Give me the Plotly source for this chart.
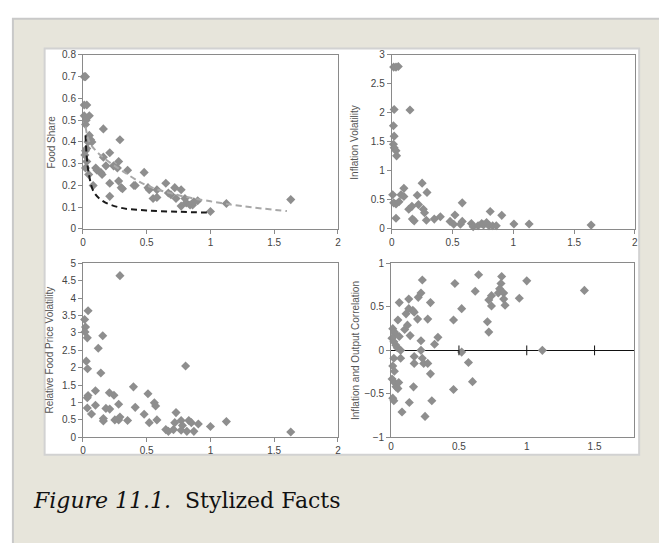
import plotly.graph_objects as go

W, H = 659, 543

# ---------------- data ----------------
p1_x = [0.01,0.02,0.01,0.03,0.01,0.025,0.05,0.02,0.05,0.06,0.07,0.04,0.03,0.02,0.015,0.03,0.02,0.045,0.08,
        0.10,0.11,0.14,0.15,0.16,0.16,0.18,0.21,0.21,0.21,0.24,0.27,0.28,0.28,0.29,0.30,0.31,0.35,0.40,0.41,
        0.48,0.51,0.52,0.55,0.58,0.58,0.65,0.67,0.69,0.72,0.73,0.77,0.77,0.80,0.81,0.84,0.86,0.87,0.90,1.00,1.125,1.63]
p1_y = [0.70,0.70,0.57,0.57,0.52,0.50,0.52,0.48,0.43,0.41,0.40,0.40,0.37,0.36,0.34,0.31,0.28,0.25,0.20,
        0.28,0.27,0.26,0.25,0.46,0.33,0.29,0.35,0.21,0.15,0.29,0.28,0.31,0.22,0.41,0.19,0.185,0.27,0.20,0.20,
        0.26,0.19,0.18,0.14,0.145,0.18,0.21,0.165,0.157,0.19,0.14,0.105,0.18,0.14,0.12,0.11,0.11,0.125,0.13,0.08,0.117,0.135]
fit_gray_x = [0.02,0.05,0.10,0.20,0.30,0.50,0.75,1.00,1.25,1.60]
fit_gray_y = [0.47,0.40,0.36,0.31,0.27,0.20,0.155,0.127,0.105,0.082]
fit_black_x = [0.02,0.03,0.047,0.085,0.16,0.30,0.50,0.75,1.00]
fit_black_y = [0.43,0.33,0.25,0.17,0.127,0.097,0.085,0.079,0.075]

p2_x = [0.016,0.035,0.054,0.02,0.15,0.014,0.02,0.014,0.02,0.035,0.04,
        0.008,0.016,0.035,0.06,0.076,0.10,0.10,0.035,0.14,0.166,0.17,0.185,0.21,0.22,0.25,0.26,0.27,0.29,0.285,
        0.35,0.40,0.48,0.51,0.52,0.565,0.58,0.58,0.655,0.67,0.71,0.74,0.755,0.78,0.80,0.81,0.83,0.86,0.905,1.005,1.13,1.64]
p2_y = [2.79,2.79,2.80,2.06,2.05,1.78,1.60,1.46,1.40,1.35,1.26,
        0.59,0.45,0.43,0.47,0.59,0.70,0.56,0.185,0.34,0.39,0.17,0.14,0.58,0.42,0.79,0.34,0.28,0.63,0.15,
        0.17,0.21,0.13,0.08,0.24,0.08,0.45,0.13,0.095,0.04,0.056,0.095,0.07,0.11,0.056,0.30,0.056,0.056,0.235,0.085,0.085,0.067]

p3_x = [0.29,0.04,0.013,0.02,0.016,0.034,0.155,0.12,0.026,0.036,0.14,0.805,0.098,0.04,0.034,0.207,0.243,0.396,0.51,
        0.098,0.034,0.067,0.18,0.21,0.16,0.16,0.28,0.41,0.25,0.28,0.29,0.35,0.48,0.52,0.56,0.57,0.58,
        0.65,0.67,0.71,0.73,0.72,0.77,0.77,0.78,0.815,0.83,0.85,0.87,0.905,1.0,1.125,1.63]
p3_y = [4.65,3.64,3.39,3.17,3.03,2.86,2.92,2.56,2.19,1.97,1.85,2.05,1.34,1.20,1.14,1.28,1.21,1.45,1.25,
        0.92,0.84,0.67,0.83,0.81,0.54,0.47,0.95,0.86,0.50,0.50,0.58,0.48,0.66,0.42,0.99,0.90,0.50,
        0.22,0.17,0.22,0.71,0.42,0.48,0.20,0.34,0.17,0.48,0.42,0.17,0.38,0.31,0.45,0.15]

p4_x = [0.012,0.024,0.03,0.006,0.02,0.035,0.045,0.06,0.07,0.06,0.05,0.02,0.07,0.012,0.024,0.007,0.024,0.036,0.056,0.05,
        0.012,0.02,0.08,0.10,0.11,0.12,0.13,0.13,0.14,0.16,0.17,0.17,0.17,0.165,0.134,0.195,0.20,0.22,0.22,0.22,
        0.23,0.23,0.24,0.27,0.27,0.29,0.29,0.25,0.30,0.32,0.345,0.46,0.47,0.46,0.52,0.52,0.57,0.60,0.62,0.645,
        0.71,0.72,0.72,0.74,0.74,0.79,0.815,0.81,0.80,0.83,0.83,0.84,0.945,1.0,1.115,1.425]
p4_y = [0.25,0.21,0.19,0.14,0.10,0.06,0.03,0.16,0.0,0.55,0.35,-0.09,-0.09,-0.18,-0.24,-0.33,-0.37,-0.42,-0.37,-0.44,
        -0.55,-0.58,-0.71,0.24,0.42,0.29,0.59,0.48,0.17,0.46,0.44,-0.07,-0.15,-0.42,-0.60,0.36,0.61,0.66,0.11,0.0,
        0.81,-0.09,-0.15,0.36,-0.15,0.55,-0.27,-0.76,-0.58,0.07,0.15,0.35,0.77,-0.45,0.48,-0.02,-0.14,-0.36,0.68,0.87,
        0.33,0.21,0.58,0.63,0.51,0.66,0.85,0.77,0.71,0.66,0.59,0.52,0.60,0.80,0.0,0.69]
p4_cross_ticks = [0.5, 1.0, 1.5]

titles = ["Food Share", "Inflation Volatility", "Relative Food Price Volatility", "Inflation and Output Correlation"]
caption_italic = "Figure 11.1."
caption_rest = "Stylized Facts"

# ---------------- layout helpers ----------------
def px_x(v):
    return v / W

def px_y(v):
    return 1 - v / H

marker = dict(symbol="diamond", size=7, color="#8e8e8e", line=dict(width=0))
fig = go.Figure()

def add_pts(x, y, ax):
    fig.add_trace(go.Scatter(x=x, y=y, mode="markers", marker=marker, cliponaxis=False,
                             xaxis="x" + ax, yaxis="y" + ax, showlegend=False, hoverinfo="skip"))

add_pts(p1_x, p1_y, "")
fig.add_trace(go.Scatter(x=fit_gray_x, y=fit_gray_y, mode="lines", line=dict(color="#a8a8a8", width=2, dash="6px,4px", shape="spline"),
                         xaxis="x", yaxis="y", showlegend=False, hoverinfo="skip"))
fig.add_trace(go.Scatter(x=fit_black_x, y=fit_black_y, mode="lines", line=dict(color="#1a1a1a", width=2, dash="6px,4px", shape="spline"),
                         xaxis="x", yaxis="y", showlegend=False, hoverinfo="skip"))
add_pts(p2_x, p2_y, "2")
add_pts(p3_x, p3_y, "3")
add_pts(p4_x, p4_y, "4")
fig.add_trace(go.Scatter(x=p4_cross_ticks, y=[0] * len(p4_cross_ticks), mode="markers",
                         marker=dict(symbol="line-ns-open", size=7, color="#111", line=dict(color="#111", width=1)),
                         xaxis="x4", yaxis="y4", showlegend=False, hoverinfo="skip", cliponaxis=False))

tickfont = dict(family="Liberation Sans, Arial", size=10, color="#444")
axcommon = dict(showgrid=False, showline=True, linecolor="#8a8a8a", linewidth=1, mirror=True,
                ticks="outside", ticklen=4, tickcolor="#8a8a8a", tickfont=tickfont, zeroline=False)

dom = {
    "1": ([80.7, 338], [50, 228]),
    "2": ([392.3, 637.7], [50, 228]),
    "3": ([80.7, 338], [263.3, 441]),
    "4": ([391.7, 636.7], [263.3, 441]),
}

def xd(k):
    a, b = dom[k][0]
    return [px_x(a), px_x(b)]

def yd(k):
    a, b = dom[k][1]
    return [px_y(b), px_y(a)]

fig.update_layout(
    width=W, height=H, margin=dict(l=0, r=0, t=0, b=0),
    paper_bgcolor="white", plot_bgcolor="rgba(0,0,0,0)",
    xaxis=dict(domain=xd("1"), range=[0, 2], dtick=0.5, anchor="y", **axcommon),
    yaxis=dict(domain=yd("1"), range=[0, 0.8], dtick=0.1, anchor="x", **axcommon),
    xaxis2=dict(domain=xd("2"), range=[0, 2], dtick=0.5, anchor="y2", **axcommon),
    yaxis2=dict(domain=yd("2"), range=[0, 3], dtick=0.5, anchor="x2", **axcommon),
    xaxis3=dict(domain=xd("3"), range=[0, 2], dtick=0.5, anchor="y3", **axcommon),
    yaxis3=dict(domain=yd("3"), range=[0, 5], dtick=0.5, anchor="x3", **axcommon),
    xaxis4=dict(domain=xd("4"), range=[0, 1.79], tickvals=[0, 0.5, 1, 1.5], anchor="y4",
                **{**axcommon, "ticks": ""}),
    yaxis4=dict(domain=yd("4"), range=[-1, 1], dtick=0.5, anchor="x4",
                **{**axcommon, "zeroline": True, "zerolinecolor": "#111", "zerolinewidth": 1}),
    showlegend=False,
)

shapes = [
    # beige page frame
    dict(type="rect", xref="paper", yref="paper", x0=px_x(10), x1=px_x(W + 20), y0=px_y(H + 20), y1=px_y(13),
         fillcolor="#e7e5db", line=dict(color="#c9c9c9", width=2), layer="below"),
    # white image area
    dict(type="rect", xref="paper", yref="paper", x0=px_x(42), x1=px_x(642), y0=px_y(459), y1=px_y(43.5),
         fillcolor="white", line=dict(color="#d2d2d2", width=2), layer="below"),
]
fig.update_layout(shapes=shapes)

ann = []
title_pos = [(49, 139), (355, 139), (46.7, 352), (355, 352)]
for t, (cx, cy) in zip(titles, title_pos):
    ann.append(dict(text=t, x=px_x(cx), y=px_y(cy), xref="paper", yref="paper", showarrow=False,
                    textangle=-90, xanchor="center", yanchor="middle",
                    font=dict(family="Liberation Sans, Arial", size=10, color="#555")))
ann.append(dict(text="<i>" + caption_italic + "</i>\u00a0 " + caption_rest, x=px_x(28), y=px_y(506),
                xref="paper", yref="paper", showarrow=False, xanchor="left", yanchor="middle",
                font=dict(family="DejaVu Serif", size=22, color="#111")))
fig.update_layout(annotations=ann)

fig.write_html("out.html")
